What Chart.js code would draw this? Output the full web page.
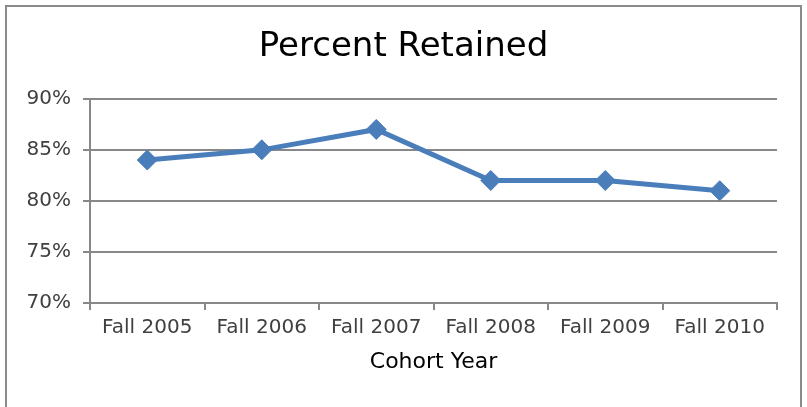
<!DOCTYPE html>
<html>
<head>
<meta charset="utf-8">
<script src="https://cdn.jsdelivr.net/npm/chart.js@4"></script>
<style>
    body { margin: 0; background: #fff; }
    #wrap { position: relative; width: 807px; height: 407px; overflow: hidden; }
    #frame { position: absolute; left: 5px; top: 5px; width: 793px; height: 420px; border: 2px solid #8a8a8a; }
    canvas { position: absolute; left: 0; top: 0; }
</style>
</head>
<body>
<div id="wrap">
    <div id="frame"></div>
    <canvas id="retentionChart" width="807" height="407"></canvas>
</div>
<script>
// Chart data
const cohortYears = ['Fall 2005', 'Fall 2006', 'Fall 2007', 'Fall 2008', 'Fall 2009', 'Fall 2010'];
const percentRetained = [84, 85, 87, 82, 82, 81];
const yTicks = [70, 75, 80, 85, 90];

const gridColor = '#888888';
const lineColor = '#4A7EBB';

Chart.defaults.font.family = 'DejaVu Sans';
Chart.defaults.color = '#404040';

const ctx = document.getElementById('retentionChart').getContext('2d');

new Chart(ctx, {
    type: 'line',
    data: {
        labels: cohortYears,
        datasets: [{
            label: 'Percent Retained',
            data: percentRetained,
            borderColor: lineColor,
            backgroundColor: lineColor,
            borderWidth: 5,
            pointStyle: 'rectRot',
            pointRadius: 10,
            pointBorderWidth: 1,
            tension: 0,
            fill: false,
            yAxisID: 'y'
        }]
    },
    options: {
        responsive: false,
        animation: false,
        layout: {
            padding: 0
        },
        plugins: {
            legend: { display: false },
            tooltip: { enabled: false },
            title: {
                display: true,
                text: 'Percent Retained',
                color: '#000',
                font: { size: 34, weight: 'normal' },
                padding: { top: 27, bottom: 31 }
            }
        },
        scales: {
            y: {
                min: yTicks[0],
                max: yTicks[yTicks.length - 1],
                afterBuildTicks: (scale) => {
                    scale.ticks = yTicks.map(v => ({ value: v }));
                },
                afterFit: (scale) => { scale.width = 90; },
                ticks: {
                    stepSize: 5,
                    padding: 12,
                    font: { size: 20 },
                    callback: (v) => v + '%'
                },
                grid: {
                    color: gridColor,
                    lineWidth: 2,
                    tickLength: 7
                },
                border: { color: gridColor, width: 2 }
            },
            // empty right axis, only reserves the white gap on the right
            yRight: {
                position: 'right',
                afterFit: (scale) => { scale.width = 30; },
                ticks: { display: false },
                grid: { display: false, drawTicks: false },
                border: { display: false }
            },
            x: {
                offset: true,
                afterFit: (scale) => { scale.height = 104; },
                ticks: {
                    padding: 6,
                    maxRotation: 0,
                    autoSkip: false,
                    font: { size: 20 }
                },
                grid: {
                    offset: true,
                    drawOnChartArea: false,
                    color: gridColor,
                    lineWidth: 2,
                    tickLength: 7
                },
                border: { color: gridColor, width: 2 },
                title: {
                    display: true,
                    text: 'Cohort Year',
                    color: '#000',
                    font: { size: 22 },
                    padding: { top: 4, bottom: 32 }
                }
            }
        }
    }
});
</script>
</body>
</html>
